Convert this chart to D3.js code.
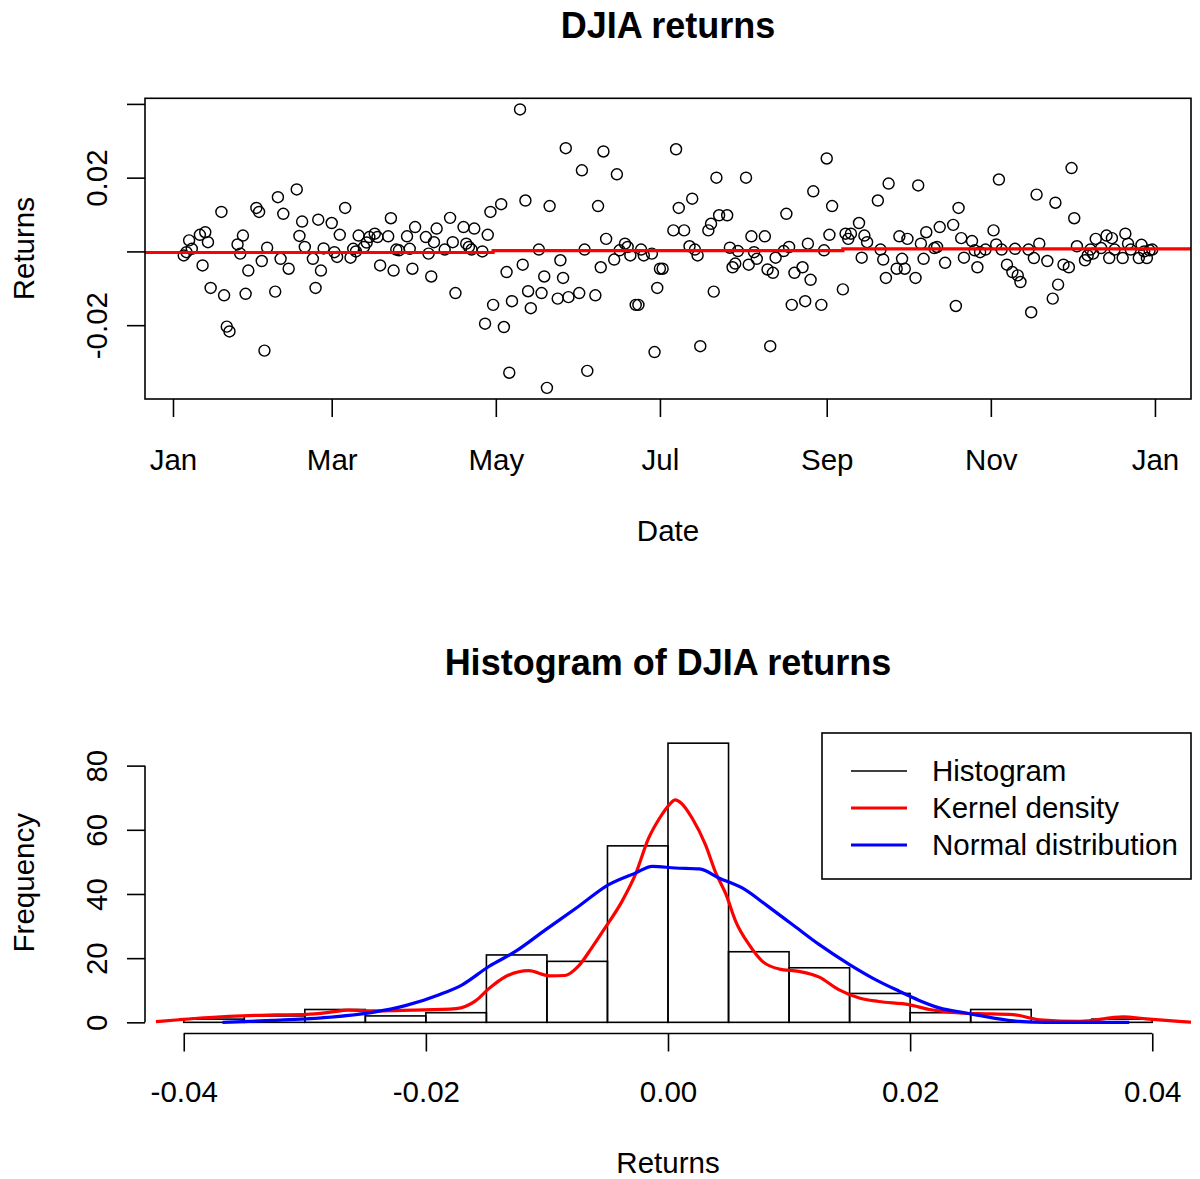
<!DOCTYPE html>
<html>
<head>
<meta charset="utf-8">
<script src="https://cdn.jsdelivr.net/npm/d3@7"></script>
<style>
  body { margin: 0; background: #fff; }
  svg { display: block; }
</style>
</head>
<body>
<svg id="chart" width="1200" height="1179"></svg>
<script>
// ---- Daily DJIA returns, 2010 (day of year, return) ----
const returnDays = [
  5,6,7,8,11,12,13,14,15,19,20,21,22,25,26,27,28,29,32,33,34,35,36,39,40,41,42,44,47,48,49,50,53,54,55,56,57,
  60,61,62,63,65,67,68,69,70,72,73,74,76,77,78,81,82,83,84,85,88,89,90,91,95,96,97,98,99,102,104,105,106,109,110,111,112,113,116,117,118,119,120,
  123,124,125,126,127,130,131,132,133,134,137,138,139,140,141,144,145,146,147,148,152,153,154,155,158,159,160,161,162,165,166,167,169,170,171,173,174,175,176,179,180,181,182,183,
  187,188,189,191,193,194,195,196,197,200,201,202,203,204,207,208,209,210,211,214,215,216,217,218,221,222,223,224,225,228,229,230,231,232,235,236,237,238,239,242,243,244,245,246,
  250,251,252,253,256,257,258,259,263,264,265,266,267,270,271,272,273,274,277,278,279,280,281,284,285,286,288,291,292,293,294,295,298,299,300,301,303,306,307,308,
  309,311,313,314,315,316,319,320,321,322,323,326,328,329,330,332,334,335,336,337,340,341,342,343,344,346,348,349,350,351,354,355,356,357,360,361,362,363,364,365
];
const returnValues = [
  -0.0011,-0.0002,0.0030,0.0007,0.0045,-0.0038,0.0052,0.0025,-0.0099,0.0107,-0.0119,-0.0204,-0.0217,0.0019,-0.0006,0.0043,-0.0115,-0.0052,0.0118,0.0107,-0.0026,-0.0269,0.0010,-0.0109,0.0147,-0.0020,0.0102,-0.0047,0.0168,0.0042,0.0081,0.0012,-0.0020,-0.0099,0.0086,-0.0052,0.0008,
  0.0077,-0.0002,-0.0015,0.0045,0.0118,-0.0017,0.0007,0.0000,0.0043,0.0012,0.0024,0.0039,0.0048,0.0039,-0.0038,0.0041,0.0090,-0.0052,0.0005,0.0003,0.0041,0.0007,-0.0047,0.0066,0.0039,-0.0006,-0.0068,0.0025,0.0062,0.0005,0.0091,0.0025,-0.0113,0.0066,0.0021,0.0012,0.0005,0.0062,0.0000,-0.0196,0.0045,0.0107,-0.0145,
  0.0128,-0.0205,-0.0056,-0.0329,-0.0135,0.0385,-0.0036,0.0138,-0.0108,-0.0154,0.0005,-0.0113,-0.0068,-0.0370,0.0123,-0.0128,-0.0024,-0.0072,0.0280,-0.0124,-0.0113,0.0220,0.0005,-0.0324,-0.0119,0.0123,-0.0043,0.0271,0.0034,-0.0022,0.0209,0.0003,0.0021,0.0012,-0.0011,-0.0145,-0.0145,0.0005,-0.0011,-0.0006,-0.0273,-0.0099,-0.0047,-0.0047,
  0.0057,0.0277,0.0118,0.0057,0.0014,0.0143,0.0005,-0.0011,-0.0257,0.0057,0.0075,-0.0109,0.0200,0.0098,0.0098,0.0010,-0.0043,-0.0033,0.0001,0.0200,-0.0036,0.0041,-0.0002,-0.0020,0.0041,-0.0049,-0.0257,-0.0058,-0.0017,0.0001,0.0102,0.0012,-0.0145,-0.0058,-0.0043,-0.0135,0.0021,-0.0077,0.0163,-0.0145,0.0003,0.0252,0.0045,0.0123,
  -0.0103,0.0048,0.0034,0.0048,0.0077,-0.0017,0.0043,0.0025,0.0138,0.0005,-0.0022,-0.0072,0.0184,-0.0047,0.0041,-0.0020,-0.0047,0.0034,-0.0072,0.0179,0.0021,-0.0020,0.0052,0.0009,0.0012,0.0066,-0.0031,0.0072,-0.0148,0.0118,0.0036,-0.0017,0.0028,0.0003,-0.0043,-0.0002,0.0005,0.0057,0.0019,0.0195,
  0.0005,-0.0036,-0.0056,0.0007,-0.0065,-0.0083,0.0005,-0.0165,-0.0018,0.0154,0.0021,-0.0026,-0.0128,0.0132,-0.0090,-0.0036,-0.0043,0.0226,0.0090,0.0014,-0.0024,-0.0011,0.0005,-0.0006,0.0034,0.0009,0.0043,-0.0018,0.0036,0.0005,-0.0018,0.0048,0.0021,0.0005,-0.0018,0.0018,0.0000,-0.0018,0.0003,0.0005
];

// Period mean levels (each level holds from its start day onward)
const levelStartDays = [1, 120, 250];
const levelValues = [-0.0003, 0.0002, 0.0007];

// Date axis
const monthTickDays = [1, 60, 121, 182, 244, 305, 366];
const monthTickLabels = ["Jan", "Mar", "May", "Jul", "Sep", "Nov", "Jan"];
const returnTicks = [-0.02, 0, 0.02, 0.04];
const returnTickLabels = ["-0.02", "", "0.02", ""];

// ---- Histogram of returns ----
const binEdges = [-0.040,-0.035,-0.030,-0.025,-0.020,-0.015,-0.010,-0.005,0.000,0.005,0.010,0.015,0.020,0.025,0.030,0.035,0.040];
const binCounts = [1, 2, 4, 2, 3, 21, 19, 55, 87, 22, 17, 9, 3, 4, 0, 1];
const freqTicks = [0, 20, 40, 60, 80];
const histTicks = [-0.04, -0.02, 0, 0.02, 0.04];
const histTickLabels = ["-0.04", "-0.02", "0.00", "0.02", "0.04"];

// Kernel density, scaled to frequency
const kernelX = [-0.0423,-0.0404,-0.0379,-0.0346,-0.0324,-0.0299,-0.0280,-0.0264,-0.0250,-0.0236,-0.0209,-0.0175,-0.0159,-0.0148,-0.0134,-0.0115,-0.0098,-0.0085,-0.0074,-0.0063,-0.0052,-0.0038,-0.0027,-0.0016,-0.0007,0.0001,0.0006,0.0011,0.0020,0.0031,0.0039,0.0048,0.0056,0.0067,0.0078,0.0092,0.0108,0.0125,0.0141,0.0158,0.0174,0.0199,0.0216,0.0241,0.0257,0.0285,0.0307,0.0340,0.0376,0.0395,0.0422,0.0433];
const kernelY = [0.2,0.8,1.5,2.1,2.3,2.5,3.1,3.8,3.6,3.6,3.8,4.3,6.7,10.5,14.3,16.1,14.5,14.6,17.5,23.2,29.4,37.7,46.0,57.4,63.6,67.8,69.3,68.3,63.6,55.3,47.0,39.8,31.4,24.2,19.0,16.6,15.9,14.1,10.2,7.6,6.5,5.5,4.0,2.9,2.7,2.4,0.8,0.3,1.7,1.1,0.3,0.0];

// Normal distribution curve, scaled to frequency
const normalX = [-0.0368,-0.0327,-0.0286,-0.0244,-0.0217,-0.0189,-0.0170,-0.0148,-0.0126,-0.0101,-0.0074,-0.0049,-0.0027,-0.0013,0.0006,0.0026,0.0042,0.0064,0.0081,0.0103,0.0125,0.0150,0.0169,0.0191,0.0207,0.0224,0.0246,0.0268,0.0290,0.0312,0.0381];
const normalY = [0.0,0.6,1.4,3.1,5.2,8.6,11.7,17.4,22.1,28.9,36.1,42.9,46.5,48.6,48.1,47.8,45.0,41.3,36.6,30.4,24.2,18.0,13.8,9.7,6.9,4.5,2.9,1.4,0.3,0.0,0.0];

const legendLabels = ["Histogram", "Kernel density", "Normal distribution"];
const legendColors = ["#000000", "#ff0000", "#0000ff"];
const legendWidths = [1.6, 3.2, 3.2];

// ---------------------------------------------------------------
const FONT = '"Liberation Sans", Arial, Helvetica, sans-serif';
const AXIS_FS = 29.5, TITLE_FS = 36;
const LW = 1.6, TICK = 18;
const LEFT = 145, RIGHT = 1191;
const TOP1 = 98.3, BOTTOM1 = 399;
const TOP2 = 732, BOTTOM2 = 1033.5;
const XLAB_OFF1 = 71;    // month label baseline below axis
const XLAB_OFF2 = 68.5;  // return label baseline below axis
const YLAB_OFF = 38;     // rotated tick label baseline left of axis
const XTITLE_OFF = 142;  // axis title baseline below axis
const YTITLE_X = 34;

const svg = d3.select("#chart");
svg.append("rect").attr("width", 1200).attr("height", 1179).attr("fill", "#fff");

// 4% range extension on both sides
const pad = ([a, b], f = 0.04) => { const p = (b - a) * f; return [a - p, b + p]; };
const dayToDate = d => new Date(2010, 0, d);

function styleAxis(g) {
  g.attr("font-family", FONT).attr("font-size", AXIS_FS);
  g.select(".domain").remove();
  g.selectAll(".tick line").attr("stroke", "#000").attr("stroke-width", LW);
  g.selectAll(".tick text").attr("fill", "#000");
}

// ===================== Panel 1: returns over time =====================
const returns = returnDays.map((d, i) => ({ date: dayToDate(d), value: returnValues[i] }));
const tExt = pad(d3.extent(returns, d => +d.date));
const xTime = d3.scaleTime().domain([new Date(tExt[0]), new Date(tExt[1])]).range([LEFT, RIGHT]);
const yRet = d3.scaleLinear().domain(pad(d3.extent(returnValues))).range([BOTTOM1, TOP1]);

const defs = svg.append("defs");
defs.append("clipPath").attr("id", "clip1").append("rect")
  .attr("x", LEFT).attr("y", TOP1).attr("width", RIGHT - LEFT).attr("height", BOTTOM1 - TOP1);
defs.append("clipPath").attr("id", "clip2").append("rect")
  .attr("x", LEFT).attr("y", TOP2).attr("width", RIGHT - LEFT).attr("height", BOTTOM2 - TOP2);

const p1 = svg.append("g").attr("clip-path", "url(#clip1)");
p1.selectAll("circle").data(returns).join("circle")
  .attr("cx", d => xTime(d.date)).attr("cy", d => yRet(d.value)).attr("r", 5.5)
  .attr("fill", "none").attr("stroke", "#000").attr("stroke-width", 1.45);

const levelPts = levelStartDays.map((d, i) => [i === 0 ? xTime.domain()[0] : dayToDate(d), levelValues[i]]);
levelPts.push([xTime.domain()[1], levelValues[levelValues.length - 1]]);
p1.append("path").datum(levelPts)
  .attr("d", d3.line().x(d => xTime(d[0])).y(d => yRet(d[1])).curve(d3.curveStepAfter))
  .attr("fill", "none").attr("stroke", "#ff0000").attr("stroke-width", 3.2);

svg.append("rect").attr("x", LEFT).attr("y", TOP1).attr("width", RIGHT - LEFT).attr("height", BOTTOM1 - TOP1)
  .attr("fill", "none").attr("stroke", "#000").attr("stroke-width", LW);

const gx1 = svg.append("g").attr("transform", `translate(0,${BOTTOM1})`)
  .call(d3.axisBottom(xTime).tickValues(monthTickDays.map(dayToDate))
    .tickFormat((d, i) => monthTickLabels[i]).tickSize(TICK).tickSizeOuter(0));
styleAxis(gx1);
gx1.selectAll(".tick text").attr("y", XLAB_OFF1).attr("dy", null);

const gy1 = svg.append("g").attr("transform", `translate(${LEFT},0)`)
  .call(d3.axisLeft(yRet).tickValues(returnTicks)
    .tickFormat((d, i) => returnTickLabels[i]).tickSize(TICK).tickSizeOuter(0));
styleAxis(gy1);
gy1.selectAll(".tick text").attr("transform", "rotate(-90)")
  .attr("x", 0).attr("y", -YLAB_OFF).attr("dy", null).attr("text-anchor", "middle");

svg.append("text").attr("x", (LEFT + RIGHT) / 2).attr("y", 38)
  .attr("text-anchor", "middle").attr("font-family", FONT).attr("font-size", TITLE_FS)
  .attr("font-weight", "bold").text("DJIA returns");
svg.append("text").attr("x", (LEFT + RIGHT) / 2).attr("y", BOTTOM1 + XTITLE_OFF)
  .attr("text-anchor", "middle").attr("font-family", FONT).attr("font-size", AXIS_FS).text("Date");
svg.append("text").attr("transform", `translate(${YTITLE_X},${(TOP1 + BOTTOM1) / 2}) rotate(-90)`)
  .attr("text-anchor", "middle").attr("font-family", FONT).attr("font-size", AXIS_FS).text("Returns");

// ===================== Panel 2: histogram =====================
const xH = d3.scaleLinear().domain(pad([binEdges[0], binEdges[binEdges.length - 1]])).range([LEFT, RIGHT]);
const yH = d3.scaleLinear().domain(pad([0, d3.max(binCounts)])).range([BOTTOM2, TOP2]);

const bins = binCounts.map((c, i) => ({ x0: binEdges[i], x1: binEdges[i + 1], count: c }));
svg.append("g").selectAll("rect").data(bins).join("rect")
  .attr("x", d => xH(d.x0)).attr("width", d => xH(d.x1) - xH(d.x0))
  .attr("y", d => yH(d.count)).attr("height", d => yH(0) - yH(d.count))
  .attr("fill", "none").attr("stroke", "#000").attr("stroke-width", LW);

const p2 = svg.append("g").attr("clip-path", "url(#clip2)");
const curve = d3.line().x(d => xH(d[0])).y(d => yH(d[1])).curve(d3.curveMonotoneX);
p2.append("path").datum(kernelX.map((x, i) => [x, kernelY[i]]))
  .attr("d", curve).attr("fill", "none").attr("stroke", "#ff0000").attr("stroke-width", 3.2)
  .attr("stroke-linejoin", "round");
p2.append("path").datum(normalX.map((x, i) => [x, normalY[i]]))
  .attr("d", curve).attr("fill", "none").attr("stroke", "#0000ff").attr("stroke-width", 3.2)
  .attr("stroke-linejoin", "round");

// axes drawn from first to last tick
const gx2 = svg.append("g").attr("transform", `translate(0,${BOTTOM2})`)
  .call(d3.axisBottom(xH).tickValues(histTicks).tickFormat((d, i) => histTickLabels[i]).tickSize(TICK));
styleAxis(gx2);
gx2.selectAll(".tick text").attr("y", XLAB_OFF2).attr("dy", null);
gx2.append("line").attr("x1", xH(histTicks[0])).attr("x2", xH(histTicks[histTicks.length - 1]))
  .attr("stroke", "#000").attr("stroke-width", LW);

const gy2 = svg.append("g").attr("transform", `translate(${LEFT},0)`)
  .call(d3.axisLeft(yH).tickValues(freqTicks).tickSize(TICK));
styleAxis(gy2);
gy2.selectAll(".tick text").attr("transform", "rotate(-90)")
  .attr("x", 0).attr("y", -YLAB_OFF).attr("dy", null).attr("text-anchor", "middle");
gy2.append("line").attr("y1", yH(freqTicks[0])).attr("y2", yH(freqTicks[freqTicks.length - 1]))
  .attr("stroke", "#000").attr("stroke-width", LW);

svg.append("text").attr("x", (LEFT + RIGHT) / 2).attr("y", 675)
  .attr("text-anchor", "middle").attr("font-family", FONT).attr("font-size", TITLE_FS)
  .attr("font-weight", "bold").text("Histogram of DJIA returns");
svg.append("text").attr("x", (LEFT + RIGHT) / 2).attr("y", BOTTOM2 + XTITLE_OFF - 2.5)
  .attr("text-anchor", "middle").attr("font-family", FONT).attr("font-size", AXIS_FS).text("Returns");
svg.append("text").attr("transform", `translate(${YTITLE_X},${(TOP2 + BOTTOM2) / 2}) rotate(-90)`)
  .attr("text-anchor", "middle").attr("font-family", FONT).attr("font-size", AXIS_FS).text("Frequency");

// legend, top right of the plot region
const LEG_W = 369, LEG_H = 146, ROW = 37;
const leg = svg.append("g").attr("transform", `translate(${RIGHT - LEG_W},${TOP2 + 1})`);
leg.append("rect").attr("width", LEG_W).attr("height", LEG_H)
  .attr("fill", "#fff").attr("stroke", "#000").attr("stroke-width", LW);
legendLabels.forEach((lab, i) => {
  const y = 38 + i * ROW;
  leg.append("line").attr("x1", 29).attr("x2", 85).attr("y1", y).attr("y2", y)
    .attr("stroke", legendColors[i]).attr("stroke-width", legendWidths[i]);
  leg.append("text").attr("x", 110).attr("y", y).attr("dy", "0.35em")
    .attr("font-family", FONT).attr("font-size", AXIS_FS).text(lab);
});
</script>
</body>
</html>
